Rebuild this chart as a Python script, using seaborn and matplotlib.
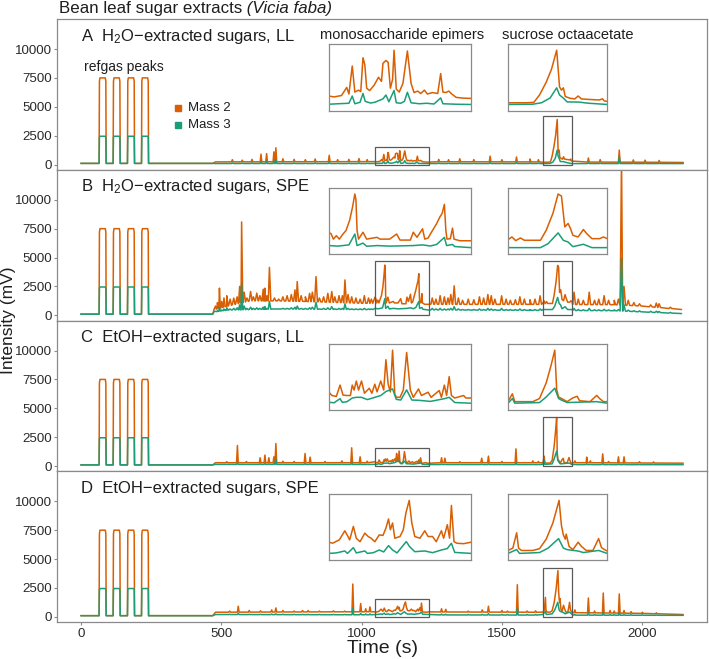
import numpy as np
import pandas as pd
import seaborn as sns
import matplotlib.pyplot as plt
from matplotlib.patches import Rectangle

# colours (Dark2)
ORANGE = "#D95F02"
GREEN = "#1B9E77"
FRAME = "#8a8a8a"

# reference gas pulses, same in every run
gas_on = [66, 116, 167, 217]
gas_off = [90, 140, 191, 241]
gas_m2 = 7500
gas_m3 = 2450

# windows that are blown up in the insets
epi_win = [1048, 1240]
suc_win = [1646, 1750]

# ---------------- A: H2O-extracted, LL ----------------
A_base_t = [0, 470, 480, 1000, 1600, 2000, 2146]
A_base_m2 = [100, 100, 230, 250, 230, 200, 180]
A_base_m3t = [0, 470, 480, 2146]
A_base_m3 = [100, 100, 90, 85]
A_spike_t = [540, 575, 610, 642, 662, 688, 695, 720, 760, 800, 835, 885, 915, 955, 991, 1020,
             1275, 1310, 1350, 1400, 1458, 1500, 1552, 1600, 1630, 1808, 1850, 1918, 1968, 2010, 2060]
A_spike_m2 = [420, 380, 450, 900, 950, 1100, 1450, 500, 450, 420, 480, 800, 420, 450, 520, 430,
              450, 420, 500, 430, 725, 420, 650, 480, 420, 570, 430, 1250, 400, 380, 350]
A_spike_m3 = [140, 130, 150, 250, 300, 300, 430, 150, 140, 130, 150, 220, 130, 140, 160, 130,
              140, 130, 150, 130, 200, 130, 190, 140, 130, 160, 130, 670, 130, 120, 110]
A_epi_t2 = [1048, 1055, 1065, 1072, 1075, 1079.5, 1083, 1088, 1091, 1094, 1096.5, 1099, 1103, 1109,
            1115, 1119, 1121, 1125, 1128, 1131, 1134, 1136, 1139, 1143, 1148, 1154, 1159, 1163, 1168,
            1172, 1177, 1181, 1188, 1195, 1199, 1202, 1206, 1210, 1214, 1220, 1230, 1240]
A_epi_m2 = [258, 240, 270, 435, 300, 875, 340, 380, 350, 1045, 900, 420, 370, 480,
            644, 560, 930, 990, 950, 420, 600, 1200, 400, 340, 520, 1185, 520, 330, 360,
            310, 380, 300, 330, 310, 720, 340, 330, 360, 300, 230, 215, 210]
A_epi_t3 = [1048, 1060, 1075, 1079.5, 1083, 1090, 1094, 1097, 1104, 1110, 1121, 1125, 1129, 1136,
            1139, 1145, 1150, 1154, 1159, 1170, 1180, 1190, 1199, 1202, 1220, 1240]
A_epi_m3 = [90, 100, 110, 258, 100, 130, 312, 150, 115, 130, 200, 280, 140, 373,
            120, 110, 150, 335, 120, 100, 110, 95, 220, 100, 90, 85]
A_suc_t2 = [1646, 1665, 1673, 1679, 1686, 1691.5, 1697, 1700, 1702, 1704, 1706, 1711, 1716, 1719.5,
            1723, 1735, 1742, 1745, 1747, 1750]
A_suc_m2 = [200, 200, 230, 750, 1650, 2550, 3900, 1315, 1090, 1250, 640, 520, 470, 675,
            470, 420, 400, 480, 330, 300]
A_suc_t3 = [1646, 1672, 1681, 1690, 1697, 1700, 1704, 1708, 1720, 1730, 1750]
A_suc_m3 = [80, 100, 200, 530, 1250, 750, 530, 260, 250, 170, 80]

# ---------------- B: H2O-extracted, SPE ----------------
B_base_t = [0, 470, 475, 520, 600, 700, 800, 1000, 1300, 1600, 1900, 2000, 2140]
B_base_m2 = [100, 100, 500, 800, 1250, 1250, 1200, 1050, 950, 950, 920, 800, 500]
B_base_m3t = [0, 470, 475, 520, 700, 1000, 1600, 1900, 2140]
B_base_m3 = [100, 100, 300, 450, 550, 500, 430, 400, 150]
B_spike_t = [480, 487, 494, 502, 510, 520, 532, 545, 557, 566, 573, 582, 592, 605, 615, 627, 638,
             650, 656, 663, 672, 690, 705, 720, 735, 750, 763, 771, 785, 800, 815, 825, 838, 850,
             865, 880, 894, 905, 920, 932, 941, 952, 965, 980, 995, 1010, 1025, 1035,
             1252, 1265, 1280, 1295, 1308, 1318, 1330, 1345, 1360, 1380, 1400, 1420, 1435, 1450,
             1462, 1475, 1499, 1515, 1530, 1548, 1564, 1580, 1600, 1618, 1636,
             1757, 1772, 1790, 1811, 1830, 1845, 1864, 1880, 1900, 1915, 1926, 1935, 1950, 1970,
             1990, 2030, 2050, 2060, 2100]
B_spike_m2 = [800, 1100, 2350, 1200, 1500, 1690, 1400, 1490, 1600, 2500, 8080, 2000, 1500, 2060, 1600, 1920, 1700,
              2260, 2350, 1700, 4150, 1500, 1400, 1600, 1700, 1800, 2200, 2920, 1700, 1600, 1900, 2000, 3350, 1500,
              1600, 1900, 2060, 1600, 1700, 1700, 3060, 1800, 1600, 1500, 1400, 1700, 1500, 1400,
              1500, 1400, 1700, 1600, 1500, 1800, 2550, 1500, 1300, 1400, 1350, 1600, 1500, 1800,
              1700, 1400, 1690, 1400, 1300, 1350, 1600, 1400, 1350, 1400, 1690,
              2000, 1400, 1300, 2000, 1300, 1400, 1700, 1300, 1300, 1400, 13500, 2500, 1300, 1100,
              1000, 900, 1060, 1000, 700]
B_spike_m3 = [350, 400, 700, 450, 550, 650, 550, 600, 650, 900, 2720, 800, 600, 700, 600, 650, 600,
              700, 750, 600, 1200, 550, 550, 600, 600, 650, 700, 800, 600, 600, 650, 700, 1117, 550,
              600, 650, 750, 550, 600, 600, 1000, 600, 550, 550, 550, 600, 550, 550,
              600, 550, 600, 550, 550, 600, 750, 550, 500, 500, 500, 550, 500, 600,
              550, 500, 600, 500, 500, 500, 550, 500, 500, 500, 550,
              600, 500, 480, 600, 480, 480, 520, 470, 470, 500, 4930, 900, 450, 400,
              380, 350, 350, 330, 250]
B_epi_t2 = [1048, 1051, 1054, 1058, 1062, 1067, 1071, 1076, 1080, 1083, 1084.5, 1086, 1088, 1094,
            1099, 1113, 1117, 1130, 1139.5, 1144, 1158, 1162, 1167, 1174.5, 1177.5, 1182, 1186.5,
            1193.5, 1198, 1201, 1204, 1206, 1207.5, 1212, 1215, 1217, 1225, 1240]
B_epi_m2 = [1570, 1450, 1070, 1320, 1070, 1440, 1690, 2440, 3430, 4350, 3930, 1700, 1070, 1570,
            1070, 1200, 1070, 1070, 1440, 1000, 1000, 1570, 1200, 1820, 1070, 1150, 1570,
            2190, 2690, 2940, 3600, 1700, 1070, 1100, 1870, 1070, 950, 950]
B_epi_t3 = [1048, 1060, 1075, 1083, 1086, 1094, 1099, 1113, 1130, 1145, 1162, 1174.5, 1185, 1193.5,
            1204, 1207, 1215, 1218, 1240]
B_epi_m3 = [600, 560, 650, 1440, 600, 780, 550, 600, 560, 580, 600, 650, 570, 680,
            1195, 600, 680, 530, 450]
B_suc_t2 = [1646, 1650, 1654, 1659, 1663, 1680, 1686, 1693, 1698.5, 1702, 1704, 1705.5, 1709, 1711.5,
            1714, 1719.5, 1725, 1728.5, 1734, 1742, 1746, 1750]
B_suc_m2 = [1073, 1260, 1000, 1190, 1025, 1025, 1740, 2930, 4320, 4175, 2930, 1980, 2220, 1860,
            1380, 1260, 1790, 1500, 1140, 1140, 1260, 1140]
B_suc_t3 = [1646, 1680, 1688, 1698.5, 1704, 1709, 1714, 1725, 1734, 1750]
B_suc_m3 = [500, 500, 785, 1550, 1020, 900, 570, 740, 500, 500]

# ---------------- C: EtOH-extracted, LL ----------------
C_base_t = [0, 470, 480, 1800, 2146]
C_base_m2 = [100, 100, 290, 290, 250]
C_base_m3t = [0, 470, 480, 2146]
C_base_m3 = [100, 100, 145, 120]
C_spike_t = [520, 558, 590, 639, 656, 670, 688, 695, 720, 760, 799, 817, 870, 930, 965, 995, 1020,
             1285, 1297, 1350, 1428, 1452, 1500, 1550, 1610, 1630,
             1760, 1802, 1815, 1859, 1880, 1915, 1935, 1990, 2040]
C_spike_m2 = [380, 1780, 400, 720, 950, 720, 800, 1950, 420, 400, 1090, 775, 400, 450, 1580, 800, 420,
              720, 680, 380, 680, 860, 400, 1490, 450, 400,
              450, 775, 450, 1060, 400, 800, 800, 380, 360]
C_spike_m3 = [160, 290, 160, 200, 230, 200, 220, 630, 170, 160, 220, 200, 160, 170, 300, 200, 160,
              180, 170, 160, 180, 200, 160, 300, 160, 160,
              160, 200, 160, 240, 160, 190, 190, 150, 150]
C_epi_t2 = [1048, 1052, 1058, 1063, 1067, 1072, 1077, 1079.5, 1082, 1085, 1088, 1092, 1096, 1102.5,
            1106, 1110, 1113, 1118, 1122, 1125, 1128, 1131, 1134, 1137, 1139.5, 1144, 1148.5, 1153,
            1158, 1162, 1169, 1173, 1182, 1186, 1197, 1200, 1204, 1207, 1210.5, 1213.5, 1218, 1230,
            1233, 1240]
C_epi_m2 = [373, 300, 280, 530, 310, 300, 300, 530, 420, 620, 420, 620, 350, 460,
            350, 550, 380, 620, 420, 1090, 550, 380, 1300, 320, 260, 260, 420, 1250,
            420, 260, 445, 300, 373, 260, 410, 260, 530, 300, 716, 300, 245, 300,
            245, 245]
C_epi_t3 = [1048, 1055, 1063, 1066, 1072, 1079.5, 1085, 1092, 1100, 1110, 1118, 1125, 1134, 1139,
            1145, 1153, 1160, 1169, 1185, 1204, 1210.5, 1218, 1240]
C_epi_m3 = [150, 140, 230, 150, 160, 245, 260, 260, 210, 260, 300, 388, 445, 215,
            200, 424, 200, 195, 170, 230, 260, 145, 130]
C_suc_t2 = [1646, 1650.5, 1653, 1672, 1679, 1686, 1691, 1695, 1697, 1699, 1702, 1708, 1714, 1718.5,
            1721, 1732, 1739, 1742, 1746, 1750]
C_suc_m2 = [280, 860, 260, 260, 500, 1700, 3010, 4200, 1180, 620, 500, 260, 550, 670,
            330, 260, 740, 500, 260, 260]
C_suc_t3 = [1646, 1650.5, 1653, 1679, 1686, 1695, 1699, 1702, 1708, 1739, 1750]
C_suc_m3 = [140, 500, 145, 190, 620, 1290, 500, 380, 190, 260, 140]

# ---------------- D: EtOH-extracted, SPE ----------------
D_base_t = [0, 470, 480, 1000, 1600, 2000, 2146]
D_base_m2 = [100, 100, 400, 440, 400, 300, 200]
D_base_m3t = [0, 470, 480, 2146]
D_base_m3 = [100, 100, 200, 130]
D_spike_t = [530, 561, 600, 640, 680, 695, 720, 760, 790, 810, 850, 900, 940, 969, 997, 1015, 1030,
             1285, 1300, 1380, 1430, 1452, 1500, 1520, 1555, 1590, 1620,
             1760, 1808, 1830, 1861, 1885, 1900, 1918, 1935, 1960, 2000, 2050]
D_spike_m2 = [500, 917, 550, 520, 600, 770, 550, 500, 550, 550, 500, 520, 500, 2840, 1150, 700, 860,
              700, 650, 500, 600, 917, 550, 500, 2780, 500, 520,
              600, 1630, 500, 2060, 550, 500, 1980, 550, 450, 400, 350]
D_spike_m3 = [220, 300, 220, 220, 240, 260, 230, 220, 220, 220, 210, 210, 210, 770, 300, 250, 260,
              240, 230, 210, 220, 280, 220, 210, 770, 210, 210,
              220, 330, 210, 380, 210, 210, 380, 200, 190, 180, 160]
D_epi_t2 = [1048, 1053, 1062, 1069.5, 1074, 1076, 1081, 1085, 1090, 1096.5, 1101, 1105, 1110, 1116,
            1121, 1125, 1128.5, 1131, 1134, 1137, 1144, 1148.5, 1152, 1156.5, 1160, 1164, 1171,
            1177.5, 1182, 1188, 1193, 1200, 1203, 1208, 1211, 1213.5, 1217, 1221, 1230, 1240]
D_epi_m2 = [430, 410, 478, 665, 540, 478, 755, 510, 440, 617, 547, 512, 440, 580,
            570, 720, 908, 686, 825, 512, 547, 686, 1033, 1290, 825, 547, 512,
            665, 547, 547, 440, 665, 512, 790, 512, 1186, 440, 408, 400, 430]
D_epi_t3 = [1048, 1058, 1069.5, 1073, 1081, 1085, 1096.5, 1100, 1108, 1116, 1122, 1128.5, 1134, 1140,
            1152.5, 1157, 1164, 1177.5, 1188, 1200, 1208, 1213.5, 1218, 1240]
D_epi_m3 = [200, 210, 250, 200, 318, 210, 250, 200, 215, 270, 230, 360, 270, 210,
            443, 340, 235, 250, 215, 270, 300, 408, 220, 200]
D_suc_t2 = [1646, 1651, 1655, 1657, 1660, 1672, 1679, 1686, 1693, 1699.5, 1702, 1704, 1706, 1707,
            1710, 1714, 1719.5, 1723, 1728, 1735, 1741, 1744, 1747, 1750]
D_suc_m2 = [410, 580, 1680, 580, 410, 410, 540, 1220, 2380, 4000, 2200, 1530, 1220, 1580,
            700, 470, 1000, 700, 410, 410, 1260, 620, 480, 370]
D_suc_t3 = [1646, 1655, 1658, 1679, 1688, 1699, 1704, 1708, 1719.5, 1725, 1741, 1750]
D_suc_m3 = [200, 475, 200, 260, 580, 1260, 580, 470, 370, 260, 410, 200]

panel_titles = ["A  H$_2$O\u2212extracted sugars, LL", "B  H$_2$O\u2212extracted sugars, SPE",
                "C  EtOH\u2212extracted sugars, LL", "D  EtOH\u2212extracted sugars, SPE"]


def build_trace(base_t, base_v, spike_t, spike_v, epi_t, epi_v, suc_t, suc_v, gas_h, hw):
    """Join baseline knots, refgas pulses, spikes and the detailed windows into one polyline."""
    assert len(spike_t) == len(spike_v) and len(epi_t) == len(epi_v) and len(suc_t) == len(suc_v)
    pts = list(zip(base_t, base_v))
    for on, off in zip(gas_on, gas_off):
        b = np.interp(on, base_t, base_v)
        pts += [(on - 0.6, b), (on + 0.6, gas_h * 0.96), (on + 2.5, gas_h),
                (off - 2.5, gas_h), (off - 0.6, gas_h * 0.96), (off + 0.6, b)]
    for t, v in zip(spike_t, spike_v):
        b = np.interp(t, base_t, base_v)
        pts += [(t - hw, b), (t, v), (t + hw, b)]
    pts += list(zip(epi_t, epi_v)) + list(zip(suc_t, suc_v))
    pts.sort()
    return pts


def panel_frame(d, hw):
    m2 = build_trace(d["bt"], d["b2"], d["st"], d["s2"], d["et2"], d["e2"], d["ut2"], d["u2"], gas_m2, hw)
    m3 = build_trace(d["bt3"], d["b3"], d["st"], d["s3"], d["et3"], d["e3"], d["ut3"], d["u3"], gas_m3, hw)
    df2 = pd.DataFrame(m2, columns=["time", "intensity"]).assign(mass="Mass 2")
    df3 = pd.DataFrame(m3, columns=["time", "intensity"]).assign(mass="Mass 3")
    return pd.concat([df2, df3], ignore_index=True)


panels = [
    dict(bt=A_base_t, b2=A_base_m2, bt3=A_base_m3t, b3=A_base_m3, st=A_spike_t, s2=A_spike_m2, s3=A_spike_m3,
         et2=A_epi_t2, e2=A_epi_m2, et3=A_epi_t3, e3=A_epi_m3, ut2=A_suc_t2, u2=A_suc_m2, ut3=A_suc_t3, u3=A_suc_m3),
    dict(bt=B_base_t, b2=B_base_m2, bt3=B_base_m3t, b3=B_base_m3, st=B_spike_t, s2=B_spike_m2, s3=B_spike_m3,
         et2=B_epi_t2, e2=B_epi_m2, et3=B_epi_t3, e3=B_epi_m3, ut2=B_suc_t2, u2=B_suc_m2, ut3=B_suc_t3, u3=B_suc_m3),
    dict(bt=C_base_t, b2=C_base_m2, bt3=C_base_m3t, b3=C_base_m3, st=C_spike_t, s2=C_spike_m2, s3=C_spike_m3,
         et2=C_epi_t2, e2=C_epi_m2, et3=C_epi_t3, e3=C_epi_m3, ut2=C_suc_t2, u2=C_suc_m2, ut3=C_suc_t3, u3=C_suc_m3),
    dict(bt=D_base_t, b2=D_base_m2, bt3=D_base_m3t, b3=D_base_m3, st=D_spike_t, s2=D_spike_m2, s3=D_spike_m3,
         et2=D_epi_t2, e2=D_epi_m2, et3=D_epi_t3, e3=D_epi_m3, ut2=D_suc_t2, u2=D_suc_m2, ut3=D_suc_t3, u3=D_suc_m3),
]

# spike half widths (s), zoom box tops and inset vertical placement (data units) per panel
spike_hw = [3, 5, 3, 3]
box_tops = [(1500, 4200), (4725, 4725), (1590, 4260), (1550, 4220)]
inset_y = [(4635, 10460), (5300, 11057), (4890, 10580), (4940, 10630)]

sns.set_style("white")
plt.rcParams["font.family"] = ["Liberation Sans", "DejaVu Sans"]
plt.rcParams["mathtext.fontset"] = "custom"
plt.rcParams["mathtext.rm"] = "Liberation Sans"
plt.rcParams["mathtext.it"] = "Liberation Sans:italic"

palette = {"Mass 2": ORANGE, "Mass 3": GREEN}

fig, axes = plt.subplots(4, 1, figsize=(7.09, 6.59), dpi=100, sharex=True)
fig.subplots_adjust(left=0.081, right=0.997, top=0.9712, bottom=0.0561, hspace=0)

for i, (ax, d) in enumerate(zip(axes, panels)):
    df = panel_frame(d, spike_hw[i])
    sns.lineplot(data=df, x="time", y="intensity", hue="mass", palette=palette,
                 estimator=None, sort=False, legend=False, lw=1.1, ax=ax)
    ax.set_xlim(-83, 2230)
    ax.set_ylim(-450, 12600)
    ax.set_yticks([0, 2500, 5000, 7500, 10000])
    ax.set_xticks([0, 500, 1000, 1500, 2000])
    ax.set_xlabel("")
    ax.set_ylabel("")
    for s in ax.spines.values():
        s.set_color(FRAME)
        s.set_linewidth(0.9)
    ax.tick_params(axis="both", length=2.5, width=0.8, color=FRAME, pad=1.5,
                   labelsize=9.6, labelcolor="#2a2a2a", bottom=True, left=True)
    ax.text(0, 0.856, panel_titles[i], transform=ax.get_xaxis_transform(),
            fontsize=12, color="#1e1e1e", ha="left", va="baseline")

    # boxes marking the zoomed windows
    for (lo, hi), top in zip([epi_win, suc_win], box_tops[i]):
        ax.add_patch(Rectangle((lo, 0), hi - lo, top, fill=False, ec="#5a5a5a", lw=0.9, zorder=4))

    # insets
    y0, y1 = inset_y[i]
    for (lo, hi), (ix0, ix1) in zip([epi_win, suc_win], [(884, 1390), (1522, 1875)]):
        ins = ax.inset_axes([ix0, y0, ix1 - ix0, y1 - y0], transform=ax.transData)
        sub = df[(df.time >= lo) & (df.time <= hi)]
        sns.lineplot(data=sub, x="time", y="intensity", hue="mass", palette=palette,
                     estimator=None, sort=False, legend=False, lw=1.1, ax=ins)
        vmin = sub.intensity.min()
        vmax = sub.intensity.max()
        pad = 0.12 * (vmax - vmin)
        ins.set_xlim(lo, hi)
        ins.set_ylim(vmin - pad, vmax + pad)
        ins.set_xticks([])
        ins.set_yticks([])
        ins.set_xlabel("")
        ins.set_ylabel("")
        for s in ins.spines.values():
            s.set_color(FRAME)
            s.set_linewidth(0.9)

axes[-1].tick_params(axis="x", labelbottom=True)

# annotations of panel A
axA = axes[0]
axA.text(1144, 0.866, "monosaccharide epimers", transform=axA.get_xaxis_transform(),
         fontsize=10.5, color="#1e1e1e", ha="center", va="baseline")
axA.text(1733, 0.866, "sucrose octaacetate", transform=axA.get_xaxis_transform(),
         fontsize=10.5, color="#1e1e1e", ha="center", va="baseline")
axA.text(155, 8100, "refgas peaks", fontsize=10, color="#1e1e1e", ha="center", va="baseline")
for yy, lab, col in [(0.411, "Mass 2", ORANGE), (0.298, "Mass 3", GREEN)]:
    axA.plot([0.1855], [yy], marker="s", ms=4.5, color=col, ls="", transform=axA.transAxes)
    axA.text(0.201, yy, lab, transform=axA.transAxes, fontsize=9.5, color="#1e1e1e",
             ha="left", va="center")

# figure titles
t1 = fig.text(0.0832, 0.9798, "Bean leaf sugar extracts", fontsize=12.2, color="#1e1e1e",
              ha="left", va="baseline")
axA.annotate(" (Vicia faba)", xy=(1, 0), xycoords=t1, fontsize=12.2, style="italic",
             color="#1e1e1e", ha="left", va="bottom", annotation_clip=False)
fig.text(0.0125, 0.514, "Intensity (mV)", rotation=90, fontsize=12.5, color="#1e1e1e",
         ha="center", va="center")
fig.text(0.540, 0.009, "Time (s)", fontsize=14, color="#1e1e1e", ha="center", va="baseline")

plt.savefig("out.png", dpi=100)
